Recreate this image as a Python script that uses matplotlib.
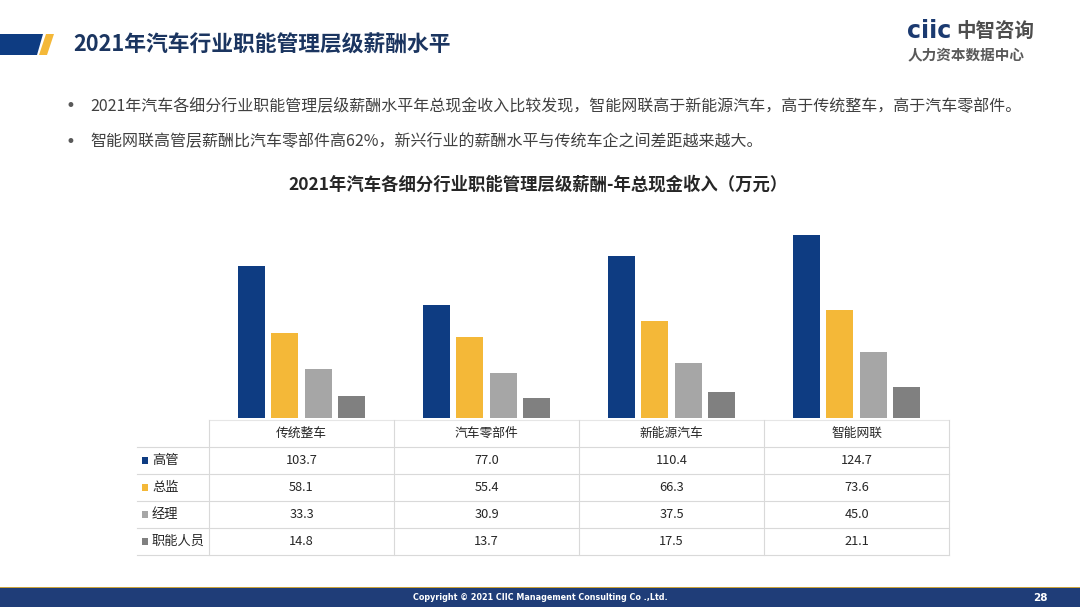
import matplotlib
matplotlib.use("Agg")
import matplotlib.pyplot as plt
from matplotlib.patches import Polygon, Rectangle
import numpy as np

plt.rcParams['font.family'] = ['Noto Sans CJK SC', 'DejaVu Sans']

categories = ["传统整车", "汽车零部件", "新能源汽车", "智能网联"]
series_names = ["高管", "总监", "经理", "职能人员"]
gaoguan = [103.7, 77.0, 110.4, 124.7]
zongjian = [58.1, 55.4, 66.3, 73.6]
jingli = [33.3, 30.9, 37.5, 45.0]
zhineng = [14.8, 13.7, 17.5, 21.1]
series_values = [gaoguan, zongjian, jingli, zhineng]
colors = ["#0E3C82", "#F4B838", "#A6A6A6", "#808080"]

title = "2021年汽车行业职能管理层级薪酬水平"
bullets = ["2021年汽车各细分行业职能管理层级薪酬水平年总现金收入比较发现，智能网联高于新能源汽车，高于传统整车，高于汽车零部件。",
           "智能网联高管层薪酬比汽车零部件高62%，新兴行业的薪酬水平与传统车企之间差距越来越大。"]
chart_title = "2021年汽车各细分行业职能管理层级薪酬-年总现金收入（万元）"

W, H = 1080, 607
fig = plt.figure(figsize=(W / 100, H / 100), dpi=100)
fig.patch.set_facecolor("white")

def fx(x):
    return x / W

def fy(y):
    return 1 - y / H

# header decoration
fig.patches.append(Polygon([(fx(0), fy(34)), (fx(43), fy(34)), (fx(37), fy(55)), (fx(0), fy(55))],
                           closed=True, transform=fig.transFigure, facecolor="#0E3C82", edgecolor="none"))
fig.patches.append(Polygon([(fx(46), fy(34)), (fx(54), fy(34)), (fx(47), fy(55)), (fx(39), fy(55))],
                           closed=True, transform=fig.transFigure, facecolor="#F4B838", edgecolor="none"))
fig.text(fx(73), fy(45), title, fontsize=15.7, fontweight="bold", color="#1B3560", va="center", ha="left")

# logo
fig.text(fx(907), fy(31), "ciic", fontsize=17, fontweight="bold", color="#1B3A70", va="center", ha="left",
         family=["DejaVu Sans"])
fig.text(fx(956), fy(31), "中智咨询", fontsize=14, fontweight="bold", color="#4D4D4D", va="center", ha="left")
fig.text(fx(908), fy(54), "人力资本数据中心", fontsize=10.5, fontweight="bold", color="#595959", va="center", ha="left")

# bullets
for i, b in enumerate(bullets):
    y = 106 + 36 * i
    fig.text(fx(65), fy(y), "•", fontsize=12, color="#595959", va="center", ha="left", family=["DejaVu Sans"])
    fig.text(fx(90), fy(y), b, fontsize=11.5, color="#404040", va="center", ha="left")

fig.text(fx(538), fy(185), chart_title, fontsize=12.5, fontweight="bold", color="#262626", va="center", ha="center")

# bar chart
ax = fig.add_axes([fx(209), fy(418), (949 - 209) / W, (418 - 198) / H])
x = np.arange(len(categories)) + 0.5
step = 0.181
width = 0.146
for k, (vals, c) in enumerate(zip(series_values, colors)):
    ax.bar(x + (k - 1.5) * step, vals, width=width, color=c, edgecolor="none")
ax.set_xlim(0, len(categories))
ax.set_ylim(0, 150)
ax.axis("off")

# data table
tax = fig.add_axes([fx(209), fy(555), (949 - 209) / W, (555 - 420) / H])
tax.set_xlim(0, len(categories))
tax.set_ylim(len(series_names) + 1, 0)
tax.axis("off")
left = -72 / 185
gc = "#D9D9D9"
tax.plot([0, 4], [0, 0], color="#E6E6E6", lw=0.8, clip_on=False)
for r in range(1, len(series_names) + 2):
    tax.plot([left, 4], [r, r], color=gc, lw=0.8, clip_on=False)
for c in range(len(categories) + 1):
    tax.plot([c, c], [0, len(series_names) + 1], color=gc, lw=0.8, clip_on=False)
for j, cat in enumerate(categories):
    tax.text(j + 0.5, 0.5, cat, fontsize=9.2, color="#262626", ha="center", va="center")
for i, (name, vals, c) in enumerate(zip(series_names, series_values, colors)):
    yy = i + 1.5
    tax.add_patch(Rectangle((left + 4.5 / 185, yy - 0.14), 6.5 / 185, 0.28, facecolor=c, edgecolor="none",
                            clip_on=False))
    tax.text(left + 15 / 185, yy, name, fontsize=9.5, color="#262626", ha="left", va="center")
    for j, v in enumerate(vals):
        tax.text(j + 0.5, yy, f"{v:.1f}", fontsize=9.2, color="#262626", ha="center", va="center")

# footer
fig.patches.append(Rectangle((0, 0), 1, (607 - 588) / H, transform=fig.transFigure,
                             facecolor="#1F3D78", edgecolor="none"))
fig.patches.append(Rectangle((0, (607 - 588) / H), 1, 1.5 / H, transform=fig.transFigure,
                             facecolor="#C9A23A", edgecolor="none"))
fig.text(fx(540), fy(598), "Copyright © 2021 CIIC Management Consulting Co .,Ltd.", fontsize=5.8,
         fontweight="bold", color="white", ha="center", va="center", family=["DejaVu Sans"])
fig.text(fx(1040), fy(598), "28", fontsize=7.5, fontweight="bold", color="white", ha="center", va="center",
         family=["DejaVu Sans"])

fig.savefig("out.png", dpi=100)
